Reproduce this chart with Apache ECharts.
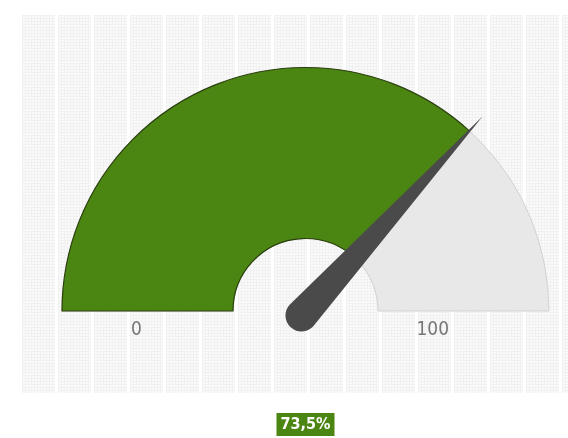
<!DOCTYPE html>
<html>
<head>
<meta charset="utf-8">
<script src="https://cdn.jsdelivr.net/npm/echarts@6/dist/echarts.min.js"></script>
<style>
  html, body { margin: 0; padding: 0; background: #fff; }
  #chart { width: 568px; height: 438px; }
</style>
</head>
<body>
<div id="chart"></div>
<script>
// --- Data ---
const scaleRange = [0, 100];
const tickLabels = ['0', '100'];
const gaugeValues = [73.5];

// --- Faint dotted backdrop (columns of fine grid) ---
function makePattern() {
  const c = document.createElement('canvas');
  c.width = 36; c.height = 3;
  const ctx = c.getContext('2d');
  ctx.fillStyle = '#ffffff';
  ctx.fillRect(0, 0, 36, 3);
  for (let x = 0; x < 33; x++) {
    for (let y = 0; y < 3; y++) {
      ctx.fillStyle = (x % 3 === 0 || y === 0) ? '#f1f1f1' : '#fafafa';
      ctx.fillRect(x, y, 1, 1);
    }
  }
  return c;
}

const labelFont = "'DejaVu Sans Condensed', 'Liberation Sans', sans-serif";
const center = [305.5, 311];
const radius = 243.5;
const bandWidth = 171;

// shared bits for the stacked gauge layers
const bare = {
  type: 'gauge',
  center, radius,
  startAngle: 180, endAngle: 0,
  min: scaleRange[0], max: scaleRange[1],
  splitNumber: 1,
  axisLine: { show: false, lineStyle: { width: 0 } },
  axisTick: { show: false },
  splitLine: { show: false, length: 0 },
  axisLabel: { show: false },
  pointer: { show: false },
  anchor: { show: false },
  title: { show: false },
  detail: { show: false }
};

const chart = echarts.init(document.getElementById('chart'), null, { renderer: 'canvas' });

chart.setOption({
  backgroundColor: '#ffffff',
  animation: false,
  graphic: [{
    type: 'rect',
    x: 22, y: 15,
    z: -10,
    silent: true,
    shape: { x: 0, y: 0, width: 546, height: 378 },
    style: { fill: { image: makePattern(), repeat: 'repeat' } }
  }],
  series: [
    // grey track
    Object.assign({}, bare, {
      z: 1,
      progress: {
        show: true, width: bandWidth,
        itemStyle: { color: '#e8e8e8', borderColor: '#d2d2d2', borderWidth: 1 }
      },
      data: [{ value: scaleRange[1] }]
    }),
    // value band
    Object.assign({}, bare, {
      z: 2,
      progress: {
        show: true, width: bandWidth,
        itemStyle: { color: '#4b8512', borderColor: '#2b400f', borderWidth: 1.2 }
      },
      data: gaugeValues.map(v => ({ value: v }))
    }),
    // needle, end labels, value box
    Object.assign({}, bare, {
      z: 3,
      axisLabel: {
        show: true,
        distance: 59,
        formatter: v => v === scaleRange[0] ? '{l|' + tickLabels[0] + '}' : '{r|' + tickLabels[1] + '}',
        rich: {
          l: { color: '#777777', fontSize: 19, fontFamily: labelFont, padding: [38, 0, 0, 0] },
          r: { color: '#777777', fontSize: 19, fontFamily: labelFont, padding: [38, 31, 0, 0] }
        }
      },
      pointer: {
        show: true,
        icon: 'path://M16 0 L32 269 A16 16 0 0 1 0 269 Z',
        length: 285,
        width: 32,
        offsetCenter: [0, 22],
        itemStyle: { color: '#4a4a4a' }
      },
      detail: {
        show: true,
        offsetCenter: [0, 113.5],
        formatter: v => v.toFixed(1).replace('.', ',') + '%',
        color: '#ffffff',
        fontFamily: labelFont,
        fontWeight: 'bold',
        fontSize: 16,
        lineHeight: 19,
        width: 44,
        height: 19,
        align: 'center',
        backgroundColor: '#4b8512',
        padding: [2, 7, 2, 7]
      },
      data: gaugeValues.map(v => ({ value: v }))
    })
  ]
});
</script>
</body>
</html>
